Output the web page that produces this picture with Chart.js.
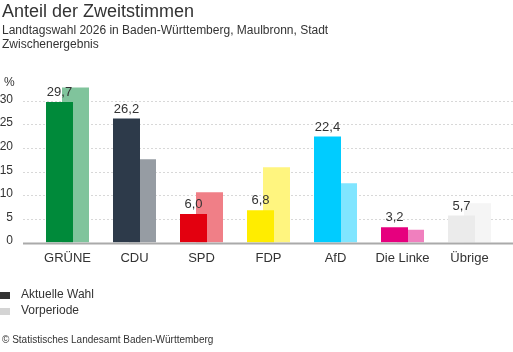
<!DOCTYPE html>
<html>
<head>
<meta charset="utf-8">
<script src="https://cdn.jsdelivr.net/npm/chart.js@4/dist/chart.umd.min.js"></script>
<style>
  body { margin: 0; background: #fff; font-family: "Liberation Sans", Arial, sans-serif; color: #333; }
  #wrap { position: relative; width: 513px; height: 352px; overflow: hidden; }
  #chart { position: absolute; left: 0; top: 0; }
  .txt { position: absolute; white-space: nowrap; }
  .sq { position: absolute; left: 0; width: 10px; height: 7px; }
</style>
</head>
<body>
<div id="wrap">
  <canvas id="chart" width="513" height="352"></canvas>
  <div class="txt" style="left:2px; top:1px; font-size:18px;">Anteil der Zweitstimmen</div>
  <div class="txt" style="left:2px; top:23px; font-size:12px;">Landtagswahl 2026 in Baden-Württemberg, Maulbronn, Stadt</div>
  <div class="txt" style="left:2px; top:37px; font-size:12px;">Zwischenergebnis</div>
  <div class="txt" style="left:4px; top:75px; font-size:12px;">%</div>
  <div class="sq" style="top:292px; background:#333;"></div>
  <div class="txt" style="left:21px; top:287px; font-size:12px;">Aktuelle Wahl</div>
  <div class="sq" style="top:308px; background:#d4d4d4;"></div>
  <div class="txt" style="left:21px; top:303px; font-size:12px;">Vorperiode</div>
  <div class="txt" style="left:2px; top:334px; font-size:10px;">© Statistisches Landesamt Baden-Württemberg</div>
</div>
<script>
// Daten
const parties = ['GRÜNE', 'CDU', 'SPD', 'FDP', 'AfD', 'Die Linke', 'Übrige'];
const currentVotes = [29.7, 26.2, 6.0, 6.8, 22.4, 3.2, 5.7];
const previousVotes = [32.8, 17.6, 10.6, 15.9, 12.5, 2.7, 8.3];
const yTicks = [0, 5, 10, 15, 20, 25, 30];

const currentColors = ['#008a3a', '#2d3a4a', '#e3000f', '#ffed00', '#00ccff', '#e6007e', '#ebebeb'];
const previousColors = ['#80c49c', '#969ca3', '#f07f87', '#fff57f', '#80e5ff', '#f07fbe', '#f5f5f5'];

// Gitter, Achsenbeschriftung und Werte selbst zeichnen
const decorPlugin = {
    id: 'decor',
    beforeDatasetsDraw: function(chart) {
        const ctx = chart.ctx;
        const y = chart.scales.y;
        ctx.save();
        ctx.font = '12px "Liberation Sans", Arial, sans-serif';
        ctx.fillStyle = '#333';
        ctx.textAlign = 'right';
        ctx.textBaseline = 'middle';
        yTicks.forEach(v => {
            const py = Math.round(y.getPixelForValue(v)) + 0.5;
            if (v > 0) {
                ctx.strokeStyle = '#d8d8d8';
                ctx.setLineDash([2, 2]);
                ctx.lineWidth = 1;
                ctx.beginPath();
                ctx.moveTo(23, py);
                ctx.lineTo(513, py);
                ctx.stroke();
            }
            ctx.fillText(String(v), 13, py - 2);
        });
        ctx.restore();
    },
    afterDatasetsDraw: function(chart) {
        const ctx = chart.ctx;
        const y = chart.scales.y;
        ctx.save();
        const py = y.getPixelForValue(0);
        ctx.strokeStyle = '#aaa';
        ctx.lineWidth = 2;
        ctx.beginPath();
        ctx.moveTo(23, py + 1);
        ctx.lineTo(513, py + 1);
        ctx.stroke();

        ctx.font = '13px "Liberation Sans", Arial, sans-serif';
        ctx.fillStyle = '#333';
        ctx.textAlign = 'center';
        ctx.textBaseline = 'bottom';
        const meta = chart.getDatasetMeta(0);
        meta.data.forEach((bar, i) => {
            ctx.fillText(currentVotes[i].toFixed(1).replace('.', ','), bar.x, bar.y - 3);
        });
        ctx.restore();
    }
};

new Chart(document.getElementById('chart'), {
    type: 'bar',
    data: {
        labels: parties,
        datasets: [
            {
                label: 'Aktuelle Wahl',
                data: currentVotes,
                backgroundColor: currentColors,
                categoryPercentage: 0.4776,
                barPercentage: 1.6875
            },
            {
                label: 'Vorperiode',
                data: previousVotes,
                backgroundColor: previousColors,
                categoryPercentage: 0.4776,
                barPercentage: 1.6875
            }
        ]
    },
    options: {
        responsive: false,
        animation: false,
        layout: { padding: { left: 26, right: 10, top: 77, bottom: 86 } },
        plugins: { legend: { display: false }, tooltip: { enabled: false } },
        scales: {
            x: {
                grid: { display: false },
                border: { display: false },
                ticks: {
                    color: '#333',
                    font: { family: '"Liberation Sans", Arial, sans-serif', size: 13 },
                    padding: 0,
                    maxRotation: 0
                }
            },
            y: {
                min: 0,
                max: 35,
                grid: { display: false },
                border: { display: false },
                ticks: { display: false, stepSize: 5 }
            }
        }
    },
    plugins: [decorPlugin]
});
</script>
</body>
</html>
